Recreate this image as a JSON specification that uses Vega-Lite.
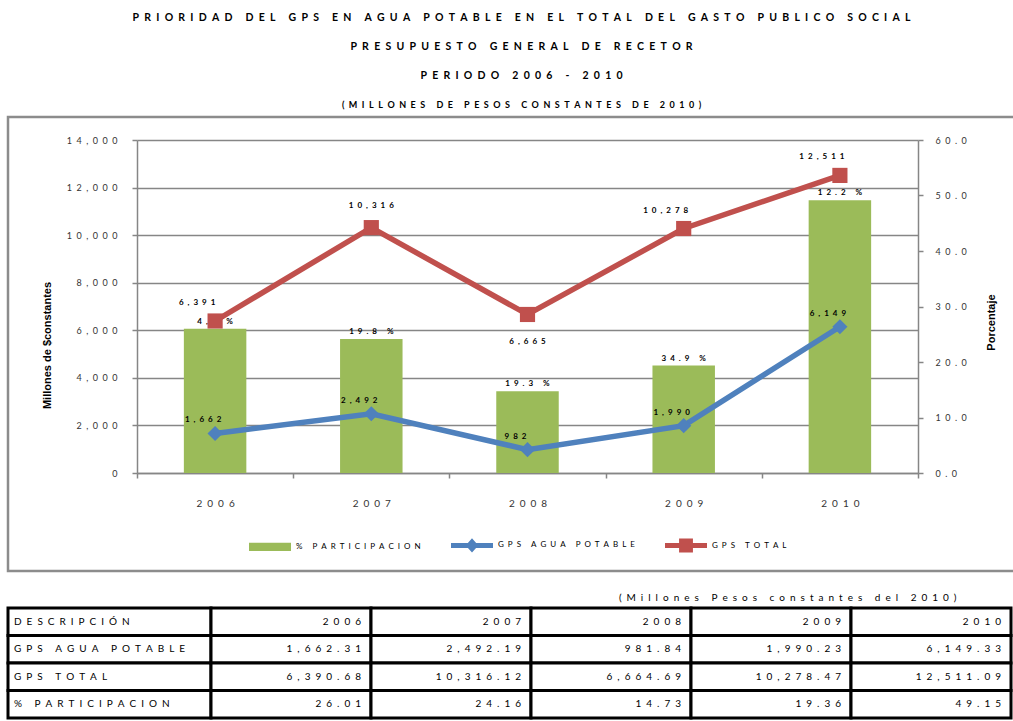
{
  "$schema": "https://vega.github.io/schema/vega-lite/v6.json",
  "background": "white",
  "padding": {"left": 6, "top": 11, "right": 0, "bottom": 0},
  "config": {
    "font": "Lato",
    "view": {"stroke": null},
    "axis": {"labelFont": "Lato", "labelColor": "#333333", "domainColor": "#868686", "domainWidth": 1.5, "tickColor": "#868686", "tickWidth": 1.5, "gridColor": "#868686", "gridWidth": 1.5, "titleColor": "#000000"},
    "text": {"font": "Lato", "color": "#000000"},
    "concat": {"spacing": 0}
  },
  "datasets": {
    "bars": [
      {"year": "2006", "part": 26.01, "lab": "4,2 %"},
      {"year": "2007", "part": 24.16, "lab": "19.8 %"},
      {"year": "2008", "part": 14.73, "lab": "19.3 %"},
      {"year": "2009", "part": 19.36, "lab": "34.9 %"},
      {"year": "2010", "part": 49.15, "lab": "12.2 %"}
    ],
    "lines": [
      {"year": "2006", "serie": "GPS AGUA POTABLE", "value": 1662.31},
      {"year": "2007", "serie": "GPS AGUA POTABLE", "value": 2492.19},
      {"year": "2008", "serie": "GPS AGUA POTABLE", "value": 981.84},
      {"year": "2009", "serie": "GPS AGUA POTABLE", "value": 1990.23},
      {"year": "2010", "serie": "GPS AGUA POTABLE", "value": 6149.33},
      {"year": "2006", "serie": "GPS TOTAL", "value": 6390.68},
      {"year": "2007", "serie": "GPS TOTAL", "value": 10316.12},
      {"year": "2008", "serie": "GPS TOTAL", "value": 6664.69},
      {"year": "2009", "serie": "GPS TOTAL", "value": 10278.47},
      {"year": "2010", "serie": "GPS TOTAL", "value": 12511.09}
    ],
    "tabla": [
      {"fila": "DESCRIPCIÓN", "col": "DESC", "txt": "DESCRIPCIÓN"},
      {"fila": "GPS AGUA POTABLE", "col": "DESC", "txt": "GPS AGUA POTABLE"},
      {"fila": "GPS TOTAL", "col": "DESC", "txt": "GPS TOTAL"},
      {"fila": "% PARTICIPACION", "col": "DESC", "txt": "% PARTICIPACION"},
      {"fila": "DESCRIPCIÓN", "col": "2006", "txt": "2006"},
      {"fila": "DESCRIPCIÓN", "col": "2007", "txt": "2007"},
      {"fila": "DESCRIPCIÓN", "col": "2008", "txt": "2008"},
      {"fila": "DESCRIPCIÓN", "col": "2009", "txt": "2009"},
      {"fila": "DESCRIPCIÓN", "col": "2010", "txt": "2010"},
      {"fila": "GPS AGUA POTABLE", "col": "2006", "txt": "1,662.31"},
      {"fila": "GPS AGUA POTABLE", "col": "2007", "txt": "2,492.19"},
      {"fila": "GPS AGUA POTABLE", "col": "2008", "txt": "981.84"},
      {"fila": "GPS AGUA POTABLE", "col": "2009", "txt": "1,990.23"},
      {"fila": "GPS AGUA POTABLE", "col": "2010", "txt": "6,149.33"},
      {"fila": "GPS TOTAL", "col": "2006", "txt": "6,390.68"},
      {"fila": "GPS TOTAL", "col": "2007", "txt": "10,316.12"},
      {"fila": "GPS TOTAL", "col": "2008", "txt": "6,664.69"},
      {"fila": "GPS TOTAL", "col": "2009", "txt": "10,278.47"},
      {"fila": "GPS TOTAL", "col": "2010", "txt": "12,511.09"},
      {"fila": "% PARTICIPACION", "col": "2006", "txt": "26.01"},
      {"fila": "% PARTICIPACION", "col": "2007", "txt": "24.16"},
      {"fila": "% PARTICIPACION", "col": "2008", "txt": "14.73"},
      {"fila": "% PARTICIPACION", "col": "2009", "txt": "19.36"},
      {"fila": "% PARTICIPACION", "col": "2010", "txt": "49.15"}
    ]
  },
  "spacing": 19,
  "vconcat": [
    {
      "width": 1007,
      "height": 454,
      "view": {"stroke": "#8c8c8c", "strokeWidth": 2.5},
      "title": {
        "text": [
          "P\u2002R\u2002I\u2002O\u2002R\u2002I\u2002D\u2002A\u2002D\u2002 \u2002D\u2002E\u2002L\u2002 \u2002G\u2002P\u2002S\u2002 \u2002E\u2002N\u2002 \u2002A\u2002G\u2002U\u2002A\u2002 \u2002P\u2002O\u2002T\u2002A\u2002B\u2002L\u2002E\u2002 \u2002E\u2002N\u2002 \u2002E\u2002L\u2002 \u2002T\u2002O\u2002T\u2002A\u2002L\u2002 \u2002D\u2002E\u2002L\u2002 \u2002G\u2002A\u2002S\u2002T\u2002O\u2002 \u2002P\u2002U\u2002B\u2002L\u2002I\u2002C\u2002O\u2002 \u2002S\u2002O\u2002C\u2002I\u2002A\u2002L",
          "P\u2002R\u2002E\u2002S\u2002U\u2002P\u2002U\u2002E\u2002S\u2002T\u2002O\u2002 \u2002G\u2002E\u2002N\u2002E\u2002R\u2002A\u2002L\u2002 \u2002D\u2002E\u2002 \u2002R\u2002E\u2002C\u2002E\u2002T\u2002O\u2002R",
          "P\u2002E\u2002R\u2002I\u2002O\u2002D\u2002O\u2002 \u20022\u20020\u20020\u20026\u2002 \u2002-\u2002 \u20022\u20020\u20021\u20020"
        ],
        "subtitle": "(\u2002M\u2002I\u2002L\u2002L\u2002O\u2002N\u2002E\u2002S\u2002 \u2002D\u2002E\u2002 \u2002P\u2002E\u2002S\u2002O\u2002S\u2002 \u2002C\u2002O\u2002N\u2002S\u2002T\u2002A\u2002N\u2002T\u2002E\u2002S\u2002 \u2002D\u2002E\u2002 \u20022\u20020\u20021\u20020\u2002)",
        "font": "Lato",
        "fontSize": 10.5,
        "fontWeight": "bold",
        "color": "#000000",
        "lineHeight": 29,
        "subtitleFont": "Lato",
        "subtitleFontSize": 9,
        "subtitleFontWeight": "bold",
        "subtitleColor": "#000000",
        "subtitlePadding": 20,
        "anchor": "middle",
        "dx": 10,
        "offset": 7
      },
      "encoding": {
        "x": {
          "field": "year",
          "type": "ordinal",
          "title": null,
          "scale": {"range": [129, 910], "paddingInner": 0, "paddingOuter": 0},
          "axis": {
            "orient": "bottom",
            "offset": -98,
            "tickBand": "extent",
            "grid": false,
            "labelAngle": 0,
            "labelFontSize": 10,
            "labelPadding": 20,
            "tickSize": 5,
            "labelExpr": "join(split(datum.label,''),'\u2002')"
          }
        }
      },
      "layer": [
        {
          "data": {"name": "bars"},
          "encoding": {
            "y": {
              "field": "part",
              "type": "quantitative",
              "scale": {"domain": [0, 60], "range": [356, 23], "nice": false},
              "axis": {
                "orient": "right",
                "offset": -97,
                "values": [0, 10, 20, 30, 40, 50, 60],
                "format": ".1f",
                "grid": false,
                "tickSize": 5,
                "labelPadding": 12,
                "labelFontSize": 9,
                "labelExpr": "join(split(datum.label,''),'\u2002')",
                "title": "Porcentaje",
                "titleFont": "Liberation Sans",
                "titleFontSize": 11,
                "titleFontWeight": "bold",
                "titleAngle": -90,
                "titleX": 73,
                "titleY": 205,
                "titleAlign": "center",
                "titleBaseline": "middle"
              }
            }
          },
          "layer": [
            {
              "mark": {"type": "bar", "width": {"band": 0.4}},
              "encoding": {
                "color": {
                  "datum": "% PARTICIPACION",
                  "type": "nominal",
                  "title": null,
                  "scale": {"domain": ["% PARTICIPACION", "GPS AGUA POTABLE", "GPS TOTAL"], "range": ["#9BBB59", "#4F81BD", "#C0504D"]},
                  "legend": {
                    "title": null,
                    "orient": "none",
                    "legendX": 241,
                    "legendY": 407,
                    "direction": "horizontal",
                    "symbolSize": 1764,
                    "labelFontSize": 8,
                    "labelColor": "#000000",
                    "labelOffset": 5,
                    "columnPadding": 30,
                    "padding": 0,
                    "labelExpr": "join(split(datum.label,''),'\u2002')",
                    "encode": {
                      "symbols": {
                        "update": {
                          "shape": {"signal": "datum.value === '% PARTICIPACION' ? 'M-1,-0.2H1V0.2H-1Z' : (datum.value === 'GPS AGUA POTABLE' ? 'M-1,-0.12H1V0.12H-1Z M0,-0.34L0.3,0L0,0.34L-0.3,0Z' : 'M-1,-0.12H1V0.12H-1Z M-0.33,-0.33H0.33V0.33H-0.33Z')"},
                          "fill": {"signal": "scale('color', datum.value)"},
                          "fillOpacity": {"value": 1},
                          "opacity": {"value": 1},
                          "strokeWidth": {"value": 0}
                        }
                      }
                    }
                  }
                }
              }
            },
            {
              "mark": {"type": "text", "fontWeight": "bold", "fontSize": 8, "baseline": "bottom", "dy": -3, "text": {"expr": "join(split(datum.lab,''),'\u2002')"}}
            }
          ]
        },
        {
          "data": {"name": "lines"},
          "encoding": {
            "y": {
              "field": "value",
              "type": "quantitative",
              "scale": {"domain": [0, 14000], "range": [356, 23], "nice": false},
              "axis": {
                "orient": "left",
                "offset": -129,
                "values": [0, 2000, 4000, 6000, 8000, 10000, 12000, 14000],
                "format": ",.0f",
                "grid": true,
                "tickSize": 5,
                "labelPadding": 15,
                "labelFontSize": 9,
                "labelExpr": "join(split(datum.label,''),'\u2002')",
                "title": "Millones de $constantes",
                "titleFont": "Liberation Sans",
                "titleFontSize": 11,
                "titleFontWeight": "bold",
                "titleAngle": -90,
                "titleX": -90,
                "titleY": 228,
                "titleAlign": "center",
                "titleBaseline": "middle"
              }
            }
          },
          "layer": [
            {
              "mark": {"type": "line", "strokeWidth": 5.5},
              "encoding": {
                "color": {
                  "field": "serie",
                  "type": "nominal",
                  "title": null,
                  "scale": {"domain": ["% PARTICIPACION", "GPS AGUA POTABLE", "GPS TOTAL"], "range": ["#9BBB59", "#4F81BD", "#C0504D"]}
                }
              }
            },
            {
              "mark": {"type": "point", "filled": true, "opacity": 1, "strokeWidth": 0},
              "encoding": {
                "color": {
                  "field": "serie",
                  "type": "nominal",
                  "title": null,
                  "scale": {"domain": ["% PARTICIPACION", "GPS AGUA POTABLE", "GPS TOTAL"], "range": ["#9BBB59", "#4F81BD", "#C0504D"]}
                },
                "shape": {"field": "serie", "type": "nominal", "scale": {"domain": ["GPS AGUA POTABLE", "GPS TOTAL"], "range": ["diamond", "square"]}, "legend": null},
                "size": {"value": 230}
              }
            },
            {
              "transform": [{"filter": "datum.serie == 'GPS AGUA POTABLE'"}],
              "mark": {"type": "text", "fontWeight": "bold", "fontSize": 8, "dx": -12, "dy": -13, "text": {"expr": "join(split(format(datum.value, ',.0f'),''),'\u2002')"}}
            },
            {
              "transform": [{"filter": "datum.serie == 'GPS TOTAL' && (datum.year == '2006' || datum.year == '2009' || datum.year == '2010')"}],
              "mark": {"type": "text", "fontWeight": "bold", "fontSize": 8, "dx": -18, "dy": -18, "text": {"expr": "join(split(format(datum.value, ',.0f'),''),'\u2002')"}}
            },
            {
              "transform": [{"filter": "datum.serie == 'GPS TOTAL' && datum.year == '2007'"}],
              "mark": {"type": "text", "fontWeight": "bold", "fontSize": 8, "dx": 0, "dy": -22, "text": {"expr": "join(split(format(datum.value, ',.0f'),''),'\u2002')"}}
            },
            {
              "transform": [{"filter": "datum.serie == 'GPS TOTAL' && datum.year == '2008'"}],
              "mark": {"type": "text", "fontWeight": "bold", "fontSize": 8, "dx": 0, "dy": 28, "text": {"expr": "join(split(format(datum.value, ',.0f'),''),'\u2002')"}}
            }
          ]
        }
      ],
      "resolve": {"scale": {"y": "independent"}}
    },
    {
      "title": {
        "text": "(\u2002M\u2002i\u2002l\u2002l\u2002o\u2002n\u2002e\u2002s\u2002 \u2002P\u2002e\u2002s\u2002o\u2002s\u2002 \u2002c\u2002o\u2002n\u2002s\u2002t\u2002a\u2002n\u2002t\u2002e\u2002s\u2002 \u2002d\u2002e\u2002l\u2002 \u20022\u20020\u20021\u20020\u2002)",
        "font": "Lato",
        "fontSize": 10,
        "fontWeight": "normal",
        "color": "#000000",
        "anchor": "end",
        "dx": -56,
        "offset": 4
      },
      "bounds": "flush",
      "spacing": 0,
      "hconcat": [
        {
          "width": 203,
          "height": 110,
          "data": {"name": "tabla"},
          "transform": [{"filter": "datum.col == 'DESC'"}],
          "encoding": {
            "x": {"field": "col", "type": "nominal", "scale": {"paddingInner": 0, "paddingOuter": 0}, "axis": null},
            "y": {"field": "fila", "type": "nominal", "scale": {"domain": ["DESCRIPCIÓN", "GPS AGUA POTABLE", "GPS TOTAL", "% PARTICIPACION"], "paddingInner": 0, "paddingOuter": 0}, "axis": null}
          },
          "layer": [
            {"mark": {"type": "rect", "fill": "white", "stroke": "black", "strokeWidth": 3}},
            {
              "mark": {"type": "text", "align": "left", "dx": 6, "fontSize": 10, "text": {"expr": "join(split(datum.txt,''),'\u2002')"}},
              "encoding": {"x": {"field": "col", "type": "nominal", "bandPosition": 0}}
            }
          ]
        },
        {
          "width": 800,
          "height": 110,
          "data": {"name": "tabla"},
          "transform": [{"filter": "datum.col != 'DESC'"}],
          "encoding": {
            "x": {"field": "col", "type": "nominal", "scale": {"domain": ["2006", "2007", "2008", "2009", "2010"], "paddingInner": 0, "paddingOuter": 0}, "axis": null},
            "y": {"field": "fila", "type": "nominal", "scale": {"domain": ["DESCRIPCIÓN", "GPS AGUA POTABLE", "GPS TOTAL", "% PARTICIPACION"], "paddingInner": 0, "paddingOuter": 0}, "axis": null}
          },
          "layer": [
            {"mark": {"type": "rect", "fill": "white", "stroke": "black", "strokeWidth": 3}},
            {
              "mark": {"type": "text", "align": "right", "dx": -10, "fontSize": 10, "text": {"expr": "join(split(datum.txt,''),'\u2002')"}},
              "encoding": {"x": {"field": "col", "type": "nominal", "bandPosition": 1}}
            }
          ]
        }
      ]
    }
  ]
}
